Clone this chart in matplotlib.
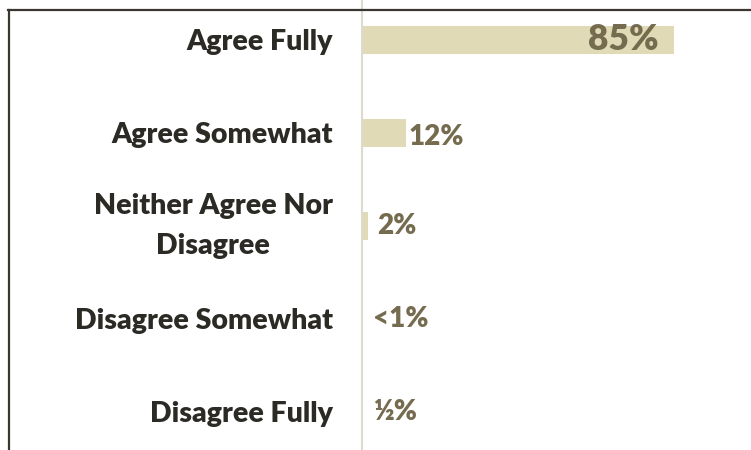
import matplotlib.pyplot as plt
from matplotlib.lines import Line2D

categories = ["Agree Fully", "Agree Somewhat", "Neither Agree Nor\nDisagree",
              "Disagree Somewhat", "Disagree Fully"]
values = [85, 12, 1.5, 0.4, 0.4]
value_labels = ["85%", "12%", "2%", "<1%", "\u00bd%"]

bar_color = "#E0DBB6"
label_color = "#756B4F"
text_color = "#2B2A25"

plt.rcParams['font.family'] = ['Lato', 'DejaVu Sans']

fig = plt.figure(figsize=(7.51, 4.5), dpi=100)
ax = fig.add_axes([362 / 751, 0, 1 - 362 / 751, 1])

ypos = list(range(len(categories)))
ax.barh(ypos, values, height=0.31, color=bar_color)
ax.set_xlim(0, 106)
ax.set_ylim(4.41, -0.43)

ax.set_yticks(ypos)
ax.set_yticklabels(categories, fontsize=20.5, fontweight="heavy", color=text_color,
                   multialignment="center", linespacing=1.65)
for t in ax.get_yticklabels():
    if "\n" in t.get_text():
        t.set_va("center")
ax.tick_params(axis="y", length=0, pad=21)
ax.set_xticks([])

for s in ["top", "right", "bottom"]:
    ax.spines[s].set_visible(False)
ax.spines["left"].set_color("#DEDAD0")
ax.spines["left"].set_linewidth(1.5)

for i, (v, lab) in enumerate(zip(values, value_labels)):
    if i == 0:
        ax.annotate(lab, (v, i), xytext=(-11, 0), textcoords="offset points",
                    ha="right", va="center", fontsize=25.5, fontweight="heavy",
                    color=label_color)
    else:
        off = 1.5 if v > 5 else 7
        ax.annotate(lab, (v, i), xytext=(off, -3 if v > 5 else 0),
                    textcoords="offset points", ha="left", va="center",
                    fontsize=20, fontweight="heavy", color=label_color)

# outer frame lines (top and left)
fig.add_artist(Line2D([8 / 751, 1], [1 - 9.5 / 450, 1 - 9.5 / 450],
                      color="#3A3630", lw=1.6, transform=fig.transFigure))
fig.add_artist(Line2D([9 / 751, 9 / 751], [0, 1 - 9.5 / 450],
                      color="#3A3630", lw=1.6, transform=fig.transFigure))

fig.savefig("out.png", dpi=100)
